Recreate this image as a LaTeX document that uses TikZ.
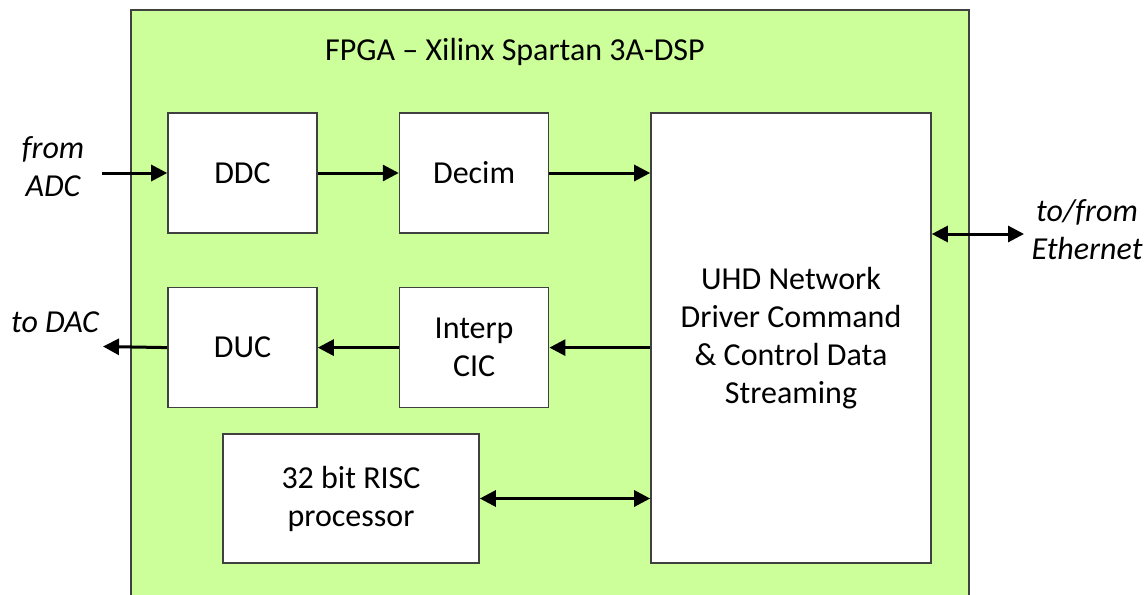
\documentclass[tikz,border=0pt]{standalone}
\usepackage{fontspec}
\setmainfont{Carlito}
\usetikzlibrary{arrows.meta,positioning}
\definecolor{ChipGreen}{HTML}{CCFF99}
\definecolor{EdgeGrey}{HTML}{404040}

\begin{document}
\begin{tikzpicture}[x=0.5pt, y=-0.5pt,
  font=\fontsize{16}{19}\selectfont,
  chip/.style={draw=EdgeGrey, fill=ChipGreen, line width=1pt, inner sep=0pt},
  block/.style={draw=EdgeGrey, fill=white, line width=0.8pt, align=center, inner sep=0pt,
    minimum width=74.5pt, minimum height=60pt},
  outside/.style={font=\fontsize{16}{19}\selectfont\itshape, align=center},
  link/.style={line width=1.5pt, -{Triangle[length=8pt,width=8pt]}},
  duplex/.style={line width=1.5pt, {Triangle[length=8pt,width=8pt]}-{Triangle[length=8pt,width=8pt]}}]
  \useasboundingbox (0,0) rectangle (1144,594);

  % FPGA outline, runs off the bottom edge
  \node[chip, minimum width=419pt, minimum height=297.5pt, anchor=north west] (fpga) at (130,9) {};
  \node (title) at (515,52) {FPGA – Xilinx Spartan 3A-DSP};

  % receive chain
  \node[block] (ddc) at (242.5,173) {DDC};
  \node[block, right=40.5pt of ddc] (decim) {Decim};
  % transmit chain
  \node[block, below=26.5pt of ddc] (duc) {DUC};
  \node[block, right=40.5pt of duc] (interp) {Interp\\CIC};
  \node[block, minimum width=128pt, minimum height=64.5pt] (risc) at (351,498.5) {32 bit RISC\\processor};
  \node[block, minimum width=140pt, minimum height=225pt] (uhd) at (791,338)
    {UHD Network\\Driver Command\\\& Control Data\\Streaming};

  % external ends
  \coordinate (adc) at (102,173);
  \coordinate (dac) at (103,346.5);
  \coordinate (eth) at (1024,234);
  \node[outside] (adclbl) at (53,167) {from\\ADC};
  \node[outside] (daclbl) at (55,322) {to DAC};
  \node[outside] (ethlbl) at (1087,230) {to/from\\Ethernet};

  \draw[link] (adc) -- (ddc.west);
  \draw[link] (ddc.east) -- (decim.west);
  \draw[link] (decim.east) -- (decim.east -| uhd.west);
  \draw[link] (interp.east -| uhd.west) -- (interp.east);
  \draw[link] (interp.west) -- (duc.east);
  \draw[link] (duc.west) -- (dac);
  \draw[duplex] (risc.east) -- (risc.east -| uhd.west);
  \draw[duplex] (eth -| uhd.east) -- (eth);
\end{tikzpicture}
\end{document}
